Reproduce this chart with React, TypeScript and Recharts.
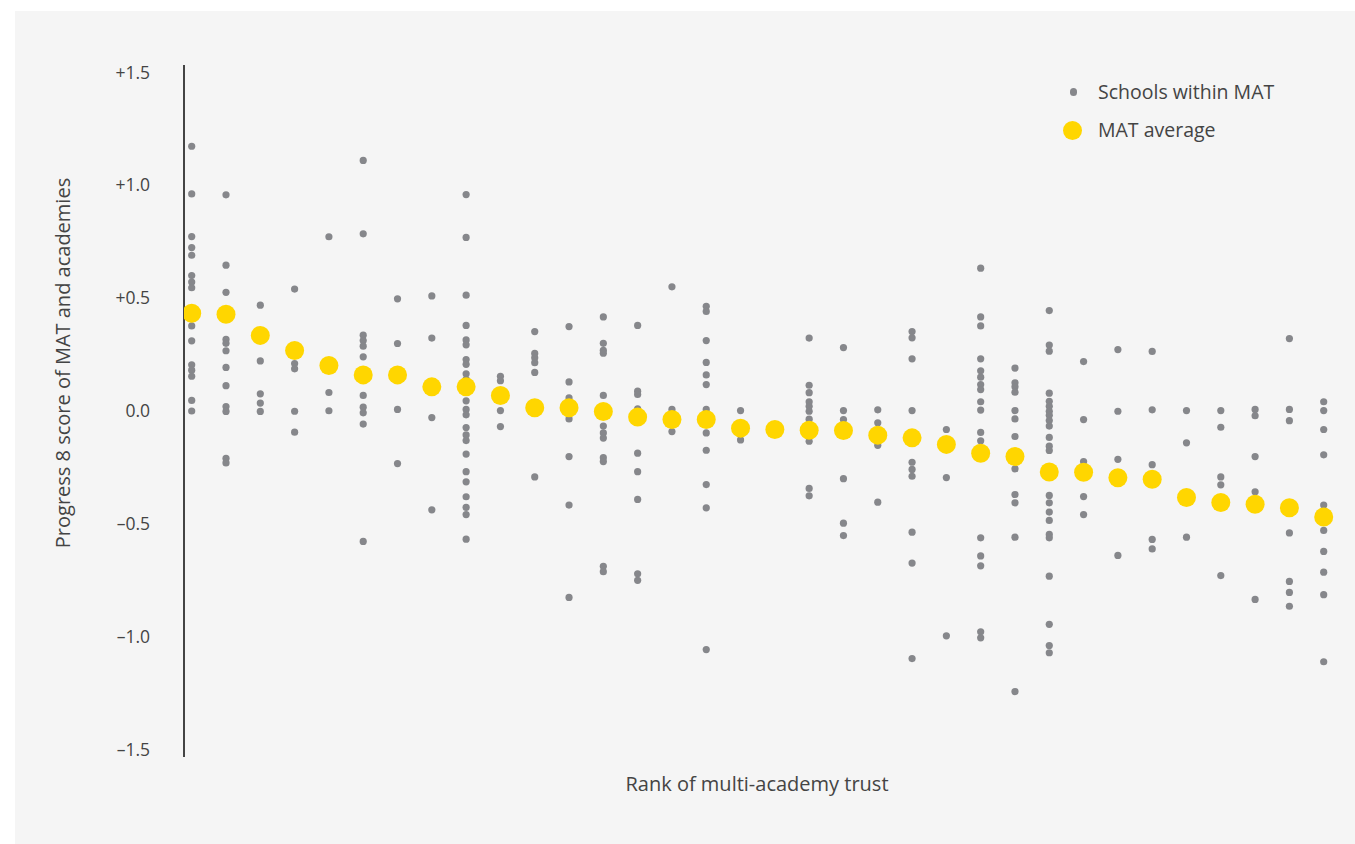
import React from 'react';
import {
  ScatterChart,
  Scatter,
  XAxis,
  YAxis,
  Legend,
  Label,
} from 'recharts';

// average Progress 8 score per MAT, ordered by rank
const matAverages = [
  0.433, 0.429, 0.335, 0.268, 0.202, 0.16, 0.16, 0.107, 0.107, 0.069,
  0.014, 0.014, -0.002, -0.027, -0.038, -0.038, -0.076, -0.082, -0.085, -0.086,
  -0.107, -0.119, -0.148, -0.187, -0.202, -0.27, -0.271, -0.296, -0.302, -0.383,
  -0.405, -0.413, -0.429, -0.47,
];

// individual academy scores within each MAT (same order as above)
const schoolScores: number[][] = [
  [1.173, 0.962, 0.773, 0.724, 0.69, 0.6, 0.571, 0.546, 0.377, 0.311, 0.205, 0.181, 0.154, 0.047, 0],
  [0.958, 0.646, 0.526, 0.317, 0.3, 0.267, 0.193, 0.112, 0.02, -0.002, -0.21, -0.23],
  [0.469, 0.222, 0.076, 0.035, -0.002],
  [0.54, 0.21, 0.187, -0.001, -0.094],
  [0.772, 0.082, 0.001],
  [1.11, 0.785, 0.336, 0.312, 0.287, 0.24, 0.069, 0.017, -0.008, -0.058, -0.578],
  [0.497, 0.299, 0.007, -0.233],
  [0.51, 0.323, -0.029, -0.438],
  [0.959, 0.769, 0.513, 0.379, 0.315, 0.293, 0.228, 0.207, 0.165, 0.14, 0.045, 0.007, -0.017, -0.073, -0.106, -0.131, -0.191, -0.269, -0.314, -0.38, -0.427, -0.459, -0.568],
  [0.154, 0.134, 0.002, -0.069],
  [0.352, 0.255, 0.236, 0.214, 0.171, -0.292],
  [0.374, 0.129, 0.058, -0.035, -0.202, -0.417, -0.826],
  [0.417, 0.3, 0.269, 0.256, 0.069, -0.067, -0.097, -0.12, -0.207, -0.224, -0.688, -0.712],
  [0.379, 0.088, 0.073, 0.01, -0.187, -0.269, -0.392, -0.721, -0.75],
  [0.55, 0.007, -0.091],
  [0.464, 0.441, 0.312, 0.215, 0.16, 0.117, 0.007, -0.097, -0.174, -0.326, -0.429, -1.057],
  [0.002, -0.128],
  [-0.082],
  [0.323, 0.114, 0.081, 0.041, 0.021, -0.001, -0.036, -0.134, -0.343, -0.376],
  [0.281, 0.002, -0.038, -0.3, -0.497, -0.552],
  [0.005, -0.052, -0.152, -0.404],
  [0.352, 0.324, 0.231, 0.002, -0.227, -0.259, -0.289, -0.537, -0.674, -1.097],
  [-0.082, -0.295, -0.996],
  [0.633, 0.417, 0.377, 0.231, 0.178, 0.15, 0.117, 0.095, 0.041, 0.004, -0.095, -0.132, -0.562, -0.642, -0.686, -0.978, -1.005],
  [0.19, 0.125, 0.107, 0.083, 0.002, -0.035, -0.113, -0.256, -0.37, -0.407, -0.559, -1.243],
  [0.445, 0.292, 0.265, 0.079, 0.043, 0.021, -0.001, -0.019, -0.042, -0.067, -0.117, -0.156, -0.175, -0.374, -0.407, -0.448, -0.485, -0.547, -0.562, -0.732, -0.945, -1.039, -1.071],
  [0.219, -0.038, -0.224, -0.379, -0.459],
  [0.272, -0.001, -0.214, -0.64],
  [0.264, 0.005, -0.238, -0.569, -0.611],
  [0.002, -0.141, -0.559],
  [0.002, -0.072, -0.292, -0.327, -0.729],
  [0.007, -0.021, -0.202, -0.358, -0.835],
  [0.321, 0.007, -0.043, -0.54, -0.755, -0.804, -0.865],
  [0.041, 0.002, -0.082, -0.194, -0.417, -0.529, -0.622, -0.714, -0.814, -1.111],
];

const yTicks = [-1.5, -1, -0.5, 0, 0.5, 1, 1.5];

const GREY = '#86878b';
const YELLOW = '#ffd600';
const TEXT = '#444444';
const FONT = '"Open Sans", Lato, sans-serif';

const schoolPoints = schoolScores.flatMap((scores, i) =>
  scores.map((score) => ({ rank: i + 1, score }))
);
const averagePoints = matAverages.map((score, i) => ({ rank: i + 1, score }));

const fmt = (v: number) => {
  if (v > 0) return '+' + v.toFixed(1);
  if (v < 0) return '–' + Math.abs(v).toFixed(1);
  return '0.0';
};

const smallDot = (p: any) => <circle cx={p.cx} cy={p.cy} r={3.6} fill={GREY} />;
const bigDot = (p: any) => <circle cx={p.cx} cy={p.cy} r={9.5} fill={YELLOW} />;

const YTick = (p: any) => (
  <text x={135} y={p.y} dy="0.35em" textAnchor="end" fontSize={17.5} fill={TEXT} fontFamily={FONT}>
    {fmt(p.payload.value)}
  </text>
);

const legendRow = { display: 'flex', alignItems: 'center', height: 38, whiteSpace: 'nowrap' as const };
const dotBox = { width: 38, display: 'flex', alignItems: 'center' };

const LegendBox = () => (
  <div style={{ fontFamily: FONT, fontSize: 19.5, color: TEXT, lineHeight: 1 }}>
    <div style={legendRow}>
      <span style={dotBox}>
        <span style={{ marginLeft: 9.5, width: 7.2, height: 7.2, borderRadius: '50%', background: GREY }} />
      </span>
      <span>Schools within MAT</span>
    </div>
    <div style={legendRow}>
      <span style={dotBox}>
        <span style={{ marginLeft: 2.5, width: 19, height: 19, borderRadius: '50%', background: YELLOW }} />
      </span>
      <span>MAT average</span>
    </div>
  </div>
);

const YTitle = () => (
  <text
    x={47}
    y={352}
    transform="rotate(-90, 47, 352)"
    textAnchor="middle"
    dominantBaseline="central"
    fontSize={20}
    fill={TEXT}
    fontFamily={FONT}
  >
    Progress 8 score of MAT and academies
  </text>
);

export default function App() {
  return (
    <div style={{ position: 'fixed', left: 0, top: 0, width: 1355, height: 844, background: '#ffffff' }}>
      <div style={{ position: 'absolute', left: 15, top: 11, width: 1340, height: 833, background: '#f5f5f5' }}>
        <ScatterChart
          width={1340}
          height={833}
          margin={{ top: 54, right: 15, bottom: 0, left: 0 }}
          style={{ fontFamily: FONT }}
        >
          <XAxis
            type="number"
            dataKey="rank"
            domain={[0.7755, 34.475]}
            allowDataOverflow
            axisLine={false}
            tickLine={false}
            tick={false}
            height={87}
          >
            <Label value="Rank of multi-academy trust" position="insideTop" offset={20} dx={-5} fontSize={20} fill={TEXT} />
          </XAxis>
          <YAxis
            type="number"
            dataKey="score"
            domain={[-1.533, 1.533]}
            ticks={yTicks}
            allowDataOverflow
            width={169}
            tickLine={false}
            tickSize={0}
            tickMargin={19}
            axisLine={{ stroke: '#444', strokeWidth: 2 }}
            tick={<YTick />}
          >
            <Label content={<YTitle />} />
          </YAxis>
          <Legend
            layout="horizontal"
            verticalAlign="middle"
            align="center"
            wrapperStyle={{ left: 1045, top: 62, width: 290 }}
            content={() => <LegendBox />}
          />
          <Scatter name="Schools within MAT" data={schoolPoints} shape={smallDot} isAnimationActive={false} />
          <Scatter name="MAT average" data={averagePoints} shape={bigDot} isAnimationActive={false} />
        </ScatterChart>
      </div>
    </div>
  );
}
